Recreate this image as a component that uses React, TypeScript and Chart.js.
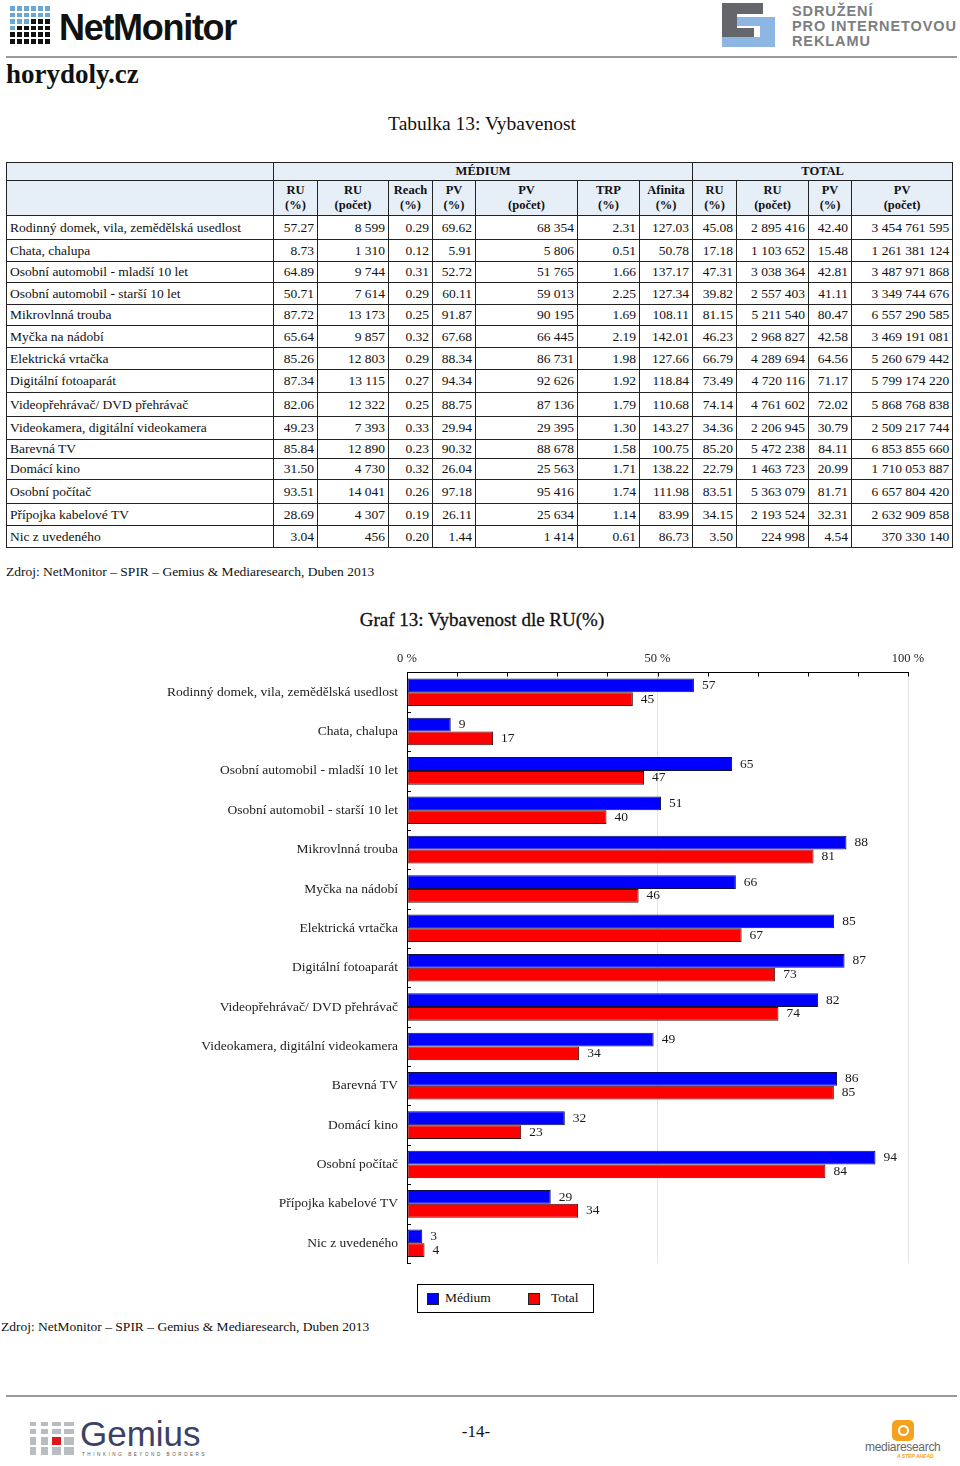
import React, { useEffect, useRef } from 'react';
import { Chart, registerables } from 'chart.js';

Chart.register(...registerables);

const SERIF = '"Liberation Serif", "Times New Roman", serif';
const SANS = '"Liberation Sans", Arial, sans-serif';

const categories = [
  'Rodinný domek, vila, zemědělská usedlost',
  'Chata, chalupa',
  'Osobní automobil - mladší 10 let',
  'Osobní automobil - starší 10 let',
  'Mikrovlnná trouba',
  'Myčka na nádobí',
  'Elektrická vrtačka',
  'Digitální fotoaparát',
  'Videopřehrávač/ DVD přehrávač',
  'Videokamera, digitální videokamera',
  'Barevná TV',
  'Domácí kino',
  'Osobní počítač',
  'Přípojka kabelové TV',
  'Nic z uvedeného',
];
const mediumRU = [57.27, 8.73, 64.89, 50.71, 87.72, 65.64, 85.26, 87.34, 82.06, 49.23, 85.84, 31.5, 93.51, 28.69, 3.04];
const mediumRUCount = ['8 599', '1 310', '9 744', '7 614', '13 173', '9 857', '12 803', '13 115', '12 322', '7 393', '12 890', '4 730', '14 041', '4 307', '456'];
const mediumReach = [0.29, 0.12, 0.31, 0.29, 0.25, 0.32, 0.29, 0.27, 0.25, 0.33, 0.23, 0.32, 0.26, 0.19, 0.2];
const mediumPV = [69.62, 5.91, 52.72, 60.11, 91.87, 67.68, 88.34, 94.34, 88.75, 29.94, 90.32, 26.04, 97.18, 26.11, 1.44];
const mediumPVCount = ['68 354', '5 806', '51 765', '59 013', '90 195', '66 445', '86 731', '92 626', '87 136', '29 395', '88 678', '25 563', '95 416', '25 634', '1 414'];
const mediumTRP = [2.31, 0.51, 1.66, 2.25, 1.69, 2.19, 1.98, 1.92, 1.79, 1.3, 1.58, 1.71, 1.74, 1.14, 0.61];
const mediumAffinity = [127.03, 50.78, 137.17, 127.34, 108.11, 142.01, 127.66, 118.84, 110.68, 143.27, 100.75, 138.22, 111.98, 83.99, 86.73];
const totalRU = [45.08, 17.18, 47.31, 39.82, 81.15, 46.23, 66.79, 73.49, 74.14, 34.36, 85.2, 22.79, 83.51, 34.15, 3.5];
const totalRUCount = ['2 895 416', '1 103 652', '3 038 364', '2 557 403', '5 211 540', '2 968 827', '4 289 694', '4 720 116', '4 761 602', '2 206 945', '5 472 238', '1 463 723', '5 363 079', '2 193 524', '224 998'];
const totalPV = [42.4, 15.48, 42.81, 41.11, 80.47, 42.58, 64.56, 71.17, 72.02, 30.79, 84.11, 20.99, 81.71, 32.31, 4.54];
const totalPVCount = ['3 454 761 595', '1 261 381 124', '3 487 971 868', '3 349 744 676', '6 557 290 585', '3 469 191 081', '5 260 679 442', '5 799 174 220', '5 868 768 838', '2 509 217 744', '6 853 855 660', '1 710 053 887', '6 657 804 420', '2 632 909 858', '370 330 140'];

const groupHeaders = ['MÉDIUM', 'TOTAL'];
const columnHeaders = [
  ['RU', '(%)'], ['RU', '(počet)'], ['Reach', '(%)'], ['PV', '(%)'], ['PV', '(počet)'], ['TRP', '(%)'], ['Afinita', '(%)'],
  ['RU', '(%)'], ['RU', '(počet)'], ['PV', '(%)'], ['PV', '(počet)'],
];
const xTickLabels = ['0 %', '50 %', '100 %'];
const seriesLabels = ['Médium', 'Total'];
const seriesColors = ['#0000ff', '#ff0000'];

const tableTitle = 'Tabulka 13: Vybavenost';
const chartTitle = 'Graf 13: Vybavenost dle RU(%)';
const sourceText = 'Zdroj: NetMonitor – SPIR – Gemius & Mediaresearch, Duben 2013';

const colWidths = [267, 44, 71, 44, 43, 102, 62, 53, 44, 72, 43, 101];
const rowHeights = [24, 22, 21, 22, 21, 22, 22, 23, 24, 23, 19, 21, 24, 22, 22];

const f2 = (v: number) => v.toFixed(2);

function BarChart() {
  const ref = useRef<HTMLCanvasElement>(null);
  useEffect(() => {
    const canvas = ref.current;
    if (!canvas) return;
    const valueLabels = {
      id: 'valueLabels',
      afterDatasetsDraw(chart: any) {
        const ctx = chart.ctx;
        ctx.save();
        ctx.font = `13.5px ${SERIF}`;
        ctx.fillStyle = '#1a1a1a';
        ctx.textBaseline = 'middle';
        ctx.textAlign = 'left';
        chart.data.datasets.forEach((ds: any, di: number) => {
          const meta = chart.getDatasetMeta(di);
          meta.data.forEach((el: any, i: number) => {
            ctx.fillText(String(Math.round(ds.data[i])), el.x + 8, el.y);
          });
        });
        ctx.restore();
      },
    };
    const innerTicks = {
      id: 'innerTicks',
      afterDraw(chart: any) {
        const { ctx, chartArea } = chart;
        const xs = chart.scales.x;
        const ys = chart.scales.y;
        ctx.save();
        ctx.strokeStyle = '#000';
        ctx.lineWidth = 1;
        ctx.beginPath();
        for (let v = 10; v <= 100; v += 10) {
          const px = Math.round(xs.getPixelForValue(v)) + 0.5;
          ctx.moveTo(px, chartArea.top);
          ctx.lineTo(px, chartArea.top + 4);
        }
        for (let i = 1; i <= categories.length; i++) {
          const py = Math.round(ys.getPixelForValue(i - 0.5)) + 0.5;
          ctx.moveTo(chartArea.left, py);
          ctx.lineTo(chartArea.left + 4, py);
        }
        ctx.stroke();
        ctx.restore();
      },
    };
    const chart = new Chart(canvas, {
      type: 'bar',
      data: {
        labels: categories,
        datasets: [
          {
            label: seriesLabels[0],
            data: mediumRU,
            backgroundColor: seriesColors[0],
            borderColor: '#10103a',
            borderWidth: 1,
            borderSkipped: false,
            categoryPercentage: 0.7,
            barPercentage: 1,
          },
          {
            label: seriesLabels[1],
            data: totalRU,
            backgroundColor: seriesColors[1],
            borderColor: '#3a1010',
            borderWidth: 1,
            borderSkipped: false,
            categoryPercentage: 0.7,
            barPercentage: 1,
          },
        ],
      },
      options: {
        indexAxis: 'y',
        animation: false,
        responsive: false,
        maintainAspectRatio: false,
        layout: { padding: { left: 0, top: 0, right: 32, bottom: 7.5 } },
        plugins: { legend: { display: false }, tooltip: { enabled: false } },
        scales: {
          x: {
            position: 'top',
            min: 0,
            max: 100,
            ticks: {
              stepSize: 50,
              padding: 6,
              color: '#222',
              font: { family: SERIF, size: 12.5 },
              callback: (_v: any, i: number) => xTickLabels[i],
            },
            grid: {
              drawTicks: false,
              color: (c: any) => (c.tick && c.tick.value === 0 ? 'rgba(0,0,0,0)' : '#e4e4e4'),
              lineWidth: 1,
            },
            border: { display: true, color: '#000', width: 1 },
            afterFit: (s: any) => { s.height = 36.5; },
          },
          y: {
            ticks: { padding: 9, color: '#222', font: { family: SERIF, size: 13.5 }, autoSkip: false },
            grid: { display: false, drawTicks: false },
            border: { display: true, color: '#000', width: 1 },
            afterFit: (s: any) => { s.width = 267; },
          },
        },
      } as any,
      plugins: [valueLabels, innerTicks],
    });
    return () => chart.destroy();
  }, []);
  return <canvas ref={ref} width={800} height={644} style={{ position: 'absolute', left: 140, top: 636 }} />;
}

const hdrCell: React.CSSProperties = {
  background: '#e6eef8',
  border: '1px solid #222',
  fontWeight: 'bold',
  fontSize: 12.5,
  lineHeight: '15px',
  padding: 0,
  textAlign: 'center',
  verticalAlign: 'middle',
};
const dataCell: React.CSSProperties = {
  border: '1px solid #222',
  padding: '0 3px 0 0',
  textAlign: 'right',
  whiteSpace: 'nowrap',
  lineHeight: '16px',
  verticalAlign: 'middle',
};

function DataTable() {
  return (
    <table
      style={{
        position: 'absolute',
        left: 6,
        top: 162,
        width: 946,
        borderCollapse: 'collapse',
        tableLayout: 'fixed',
        fontFamily: SERIF,
        fontSize: 13.5,
        color: '#111',
        border: '1.5px solid #222',
      }}
    >
      <colgroup>
        {colWidths.map((w, i) => (
          <col key={i} style={{ width: w }} />
        ))}
      </colgroup>
      <thead>
        <tr style={{ height: 18 }}>
          <th style={hdrCell}></th>
          <th colSpan={7} style={hdrCell}>{groupHeaders[0]}</th>
          <th colSpan={4} style={hdrCell}>{groupHeaders[1]}</th>
        </tr>
        <tr style={{ height: 35 }}>
          <th style={hdrCell}></th>
          {columnHeaders.map((h, i) => (
            <th key={i} style={hdrCell}>
              {h[0]}
              <br />
              {h[1]}
            </th>
          ))}
        </tr>
      </thead>
      <tbody>
        {categories.map((c, i) => (
          <tr key={i} style={{ height: rowHeights[i] }}>
            <td style={{ ...dataCell, textAlign: 'left', padding: '0 0 0 3px' }}>{c}</td>
            <td style={dataCell}>{f2(mediumRU[i])}</td>
            <td style={dataCell}>{mediumRUCount[i]}</td>
            <td style={dataCell}>{f2(mediumReach[i])}</td>
            <td style={dataCell}>{f2(mediumPV[i])}</td>
            <td style={dataCell}>{mediumPVCount[i]}</td>
            <td style={dataCell}>{f2(mediumTRP[i])}</td>
            <td style={dataCell}>{f2(mediumAffinity[i])}</td>
            <td style={dataCell}>{f2(totalRU[i])}</td>
            <td style={dataCell}>{totalRUCount[i]}</td>
            <td style={dataCell}>{f2(totalPV[i])}</td>
            <td style={dataCell}>{totalPVCount[i]}</td>
          </tr>
        ))}
      </tbody>
    </table>
  );
}

function NetMonitorLogo() {
  const cells = [];
  for (let r = 0; r < 6; r++) {
    for (let c = 0; c < 6; c++) {
      const blue = r < 2 || (r === 2 && c < 3) || (r === 3 && c < 1);
      cells.push(
        <div
          key={r * 6 + c}
          style={{ position: 'absolute', left: 10 + c * 7, top: 6 + r * 6.6, width: 5, height: 4.5, background: blue ? '#6aa6d6' : '#111' }}
        />
      );
    }
  }
  return (
    <>
      {cells}
      <div style={{ position: 'absolute', left: 59, top: 8, fontFamily: SANS, fontWeight: 'bold', fontSize: 36, letterSpacing: -1.3, lineHeight: '40px', color: '#111' }}>
        NetMonitor
      </div>
    </>
  );
}

function SpirLogo() {
  const gray = '#64666b';
  const blue = '#8db6e2';
  const r = (l: number, t: number, w: number, h: number, bg: string, k: string) => (
    <div key={k} style={{ position: 'absolute', left: l, top: t, width: w, height: h, background: bg }} />
  );
  return (
    <>
      {r(722, 3, 41, 11, gray, 'a')}
      {r(722, 3, 15, 34, gray, 'b')}
      {r(737, 17, 38, 9, blue, 'c')}
      {r(760, 17, 15, 30, blue, 'd')}
      {r(722, 37, 53, 10, blue, 'e')}
      {r(722, 28, 32, 9, gray, 'f')}
      <div style={{ position: 'absolute', left: 792, top: 4, fontFamily: SANS, fontWeight: 'bold', fontSize: 14.5, lineHeight: '14.8px', letterSpacing: 0.9, color: '#7c7e82' }}>
        SDRUŽENÍ
        <br />
        PRO INTERNETOVOU
        <br />
        REKLAMU
      </div>
    </>
  );
}

function GemiusLogo() {
  const xs = [30, 41, 52, 64];
  const ws = [6, 7, 9, 10];
  const ys = [1422, 1429, 1437, 1447];
  const hs = [4, 5, 8, 8];
  const cells = [];
  for (let r = 0; r < 4; r++) {
    for (let c = 0; c < 4; c++) {
      const red = r === 2 && c === 2;
      cells.push(
        <div key={r * 4 + c} style={{ position: 'absolute', left: xs[c], top: ys[r], width: ws[c], height: hs[r], background: red ? '#e0161b' : '#b9bdc2' }} />
      );
    }
  }
  return (
    <>
      {cells}
      <div style={{ position: 'absolute', left: 80, top: 1414, fontFamily: SANS, fontSize: 35, lineHeight: '40px', color: '#3b4266' }}>Gemius</div>
      <div style={{ position: 'absolute', left: 82, top: 1452, fontFamily: SANS, fontSize: 4.5, letterSpacing: 2.6, color: '#555', whiteSpace: 'nowrap' }}>
        THINKING BEYOND BORDERS
      </div>
    </>
  );
}

function MediaresearchLogo() {
  return (
    <>
      <div style={{ position: 'absolute', left: 892, top: 1420, width: 22, height: 21, borderRadius: 5, background: '#f4a21d' }} />
      <div style={{ position: 'absolute', left: 898, top: 1425, width: 7, height: 7, borderRadius: '50%', border: '2.5px solid #fff' }} />
      <div style={{ position: 'absolute', left: 865, top: 1440, fontFamily: SANS, fontSize: 12, color: '#666', letterSpacing: -0.3 }}>mediaresearch</div>
      <div style={{ position: 'absolute', left: 897, top: 1453, fontFamily: SANS, fontSize: 5, fontWeight: 'bold', fontStyle: 'italic', color: '#f4a21d', whiteSpace: 'nowrap' }}>
        A STEP AHEAD
      </div>
    </>
  );
}

function Legend() {
  return (
    <div
      style={{
        position: 'absolute',
        left: 417,
        top: 1284,
        width: 175,
        height: 27,
        border: '1.5px solid #000',
        fontFamily: SERIF,
        fontSize: 13.5,
        color: '#111',
      }}
    >
      {seriesLabels.map((s, i) => (
        <React.Fragment key={i}>
          <div style={{ position: 'absolute', left: 9 + i * 101, top: 8, width: 10, height: 10, background: seriesColors[i], border: '1px solid #222' }} />
          <div style={{ position: 'absolute', left: 27 + i * 106, top: 5, lineHeight: '16px' }}>{s}</div>
        </React.Fragment>
      ))}
    </div>
  );
}

export default function App() {
  return (
    <div style={{ position: 'absolute', left: 0, top: 0, width: 960, height: 1466, background: '#fff', overflow: 'hidden', fontFamily: SERIF, color: '#111' }}>
      <NetMonitorLogo />
      <SpirLogo />
      <div style={{ position: 'absolute', left: 6, top: 55.5, width: 951, height: 2, background: '#9a9a9a' }} />
      <div style={{ position: 'absolute', left: 6, top: 58, fontFamily: SERIF, fontWeight: 'bold', fontSize: 27, lineHeight: '32px', color: '#111' }}>horydoly.cz</div>
      <div style={{ position: 'absolute', left: 0, width: 964, top: 112, textAlign: 'center', fontSize: 19.5, lineHeight: '24px' }}>{tableTitle}</div>
      <DataTable />
      <div style={{ position: 'absolute', left: 6, top: 563, fontSize: 13.5, lineHeight: '18px', whiteSpace: 'nowrap' }}>{sourceText}</div>
      <div style={{ position: 'absolute', left: 0, width: 964, top: 608, textAlign: 'center', fontSize: 19, lineHeight: '24px', WebkitTextStroke: '0.3px #111' }}>{chartTitle}</div>
      <BarChart />
      <Legend />
      <div style={{ position: 'absolute', left: 1, top: 1318, fontSize: 13.5, lineHeight: '18px', whiteSpace: 'nowrap' }}>{sourceText}</div>
      <div style={{ position: 'absolute', left: 6, top: 1395, width: 951, height: 2, background: '#9a9a9a' }} />
      <GemiusLogo />
      <div style={{ position: 'absolute', left: 0, width: 952, top: 1421, textAlign: 'center', fontSize: 17, lineHeight: '22px' }}>-14-</div>
      <MediaresearchLogo />
    </div>
  );
}
